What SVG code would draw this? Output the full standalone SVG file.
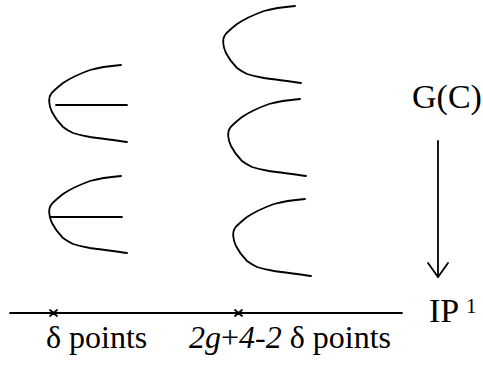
<svg xmlns="http://www.w3.org/2000/svg" width="483" height="365" viewBox="0 0 483 365">
<style>
.s{fill:none;stroke:#000;stroke-width:1.8;stroke-linecap:round;stroke-linejoin:round}
text{font-family:'Liberation Serif','DejaVu Serif','Times New Roman',serif;fill:#000}
.i{font-style:italic}
</style>
<defs>
<path id="arc" d="M72,-35 C60,-34 48,-32 41,-30 C30,-26 20,-21 14,-17 C9,-13 4,-9 2,-6 C-1,-2 0,6 3,12 C6,18 10,23 14,27 C18,30 20,31 24,33 C30,35 35,36 41,37 C55,39 65,40 78,42"/>
</defs>
<g id="fiber-left-top">
<use href="#arc" class="s" transform="translate(49,100)"/>
<line class="s" x1="56" y1="105" x2="127" y2="105"/>
</g>
<g id="fiber-left-bottom">
<use href="#arc" class="s" transform="translate(49,211)"/>
<line class="s" x1="50" y1="217" x2="122" y2="217"/>
</g>
<g id="fiber-right-1"><use href="#arc" class="s" transform="translate(223,41)"/></g>
<g id="fiber-right-2"><use href="#arc" class="s" transform="translate(228,134)"/></g>
<g id="fiber-right-3"><use href="#arc" class="s" transform="translate(233,234)"/></g>
<g id="label-GC"><text x="412" y="108" font-size="34">G(C)</text></g>
<g id="label-P1"><text x="429" y="322" font-size="34">IP</text><text x="466" y="313" font-size="21">1</text></g>
<g id="connectors">
<line class="s" x1="438" y1="141" x2="438" y2="277"/>
<polyline class="s" points="428,263 438,277 448,263"/>
</g>
<g id="base-line">
<line class="s" x1="10" y1="313" x2="402" y2="313"/>
<path class="s" d="M50,310 L57,316 M57,310 L50,316"/>
<path class="s" d="M235,310 L242,316 M242,310 L235,316"/>
</g>
<g id="label-delta"><text x="46" y="348" font-size="32">δ points</text></g>
<g id="label-2g"><text x="189" y="348" font-size="32"><tspan class="i">2g</tspan>+<tspan class="i">4-2</tspan> δ points</text></g>
</svg>
